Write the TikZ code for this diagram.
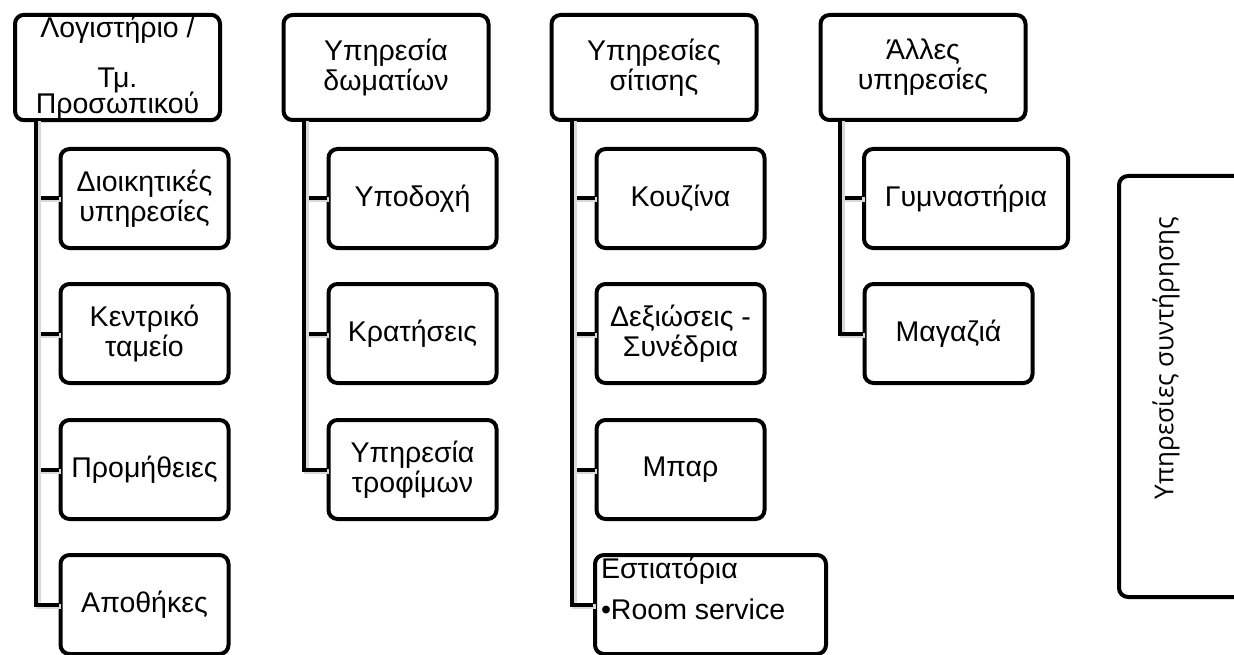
\documentclass[tikz,border=0pt]{standalone}
\usepackage{fontspec}
\setmainfont{Liberation Sans}
\newfontfamily\maintfont{Open Sans}
\begin{document}
\begin{tikzpicture}[x=1pt,y=-1pt,
  box/.style={draw,line width=4pt,rounded corners=9pt,align=center,inner sep=1pt,
    font=\fontsize{28.5}{30}\selectfont},
  head/.style={box,minimum width=205pt,minimum height=105pt},
  item/.style={box,minimum width=168pt,minimum height=99pt},
  conn/.style={line width=4pt,preaction={draw,black!15,line width=5pt,
    transform canvas={shift={(2.5pt,-1.5pt)}}}}]
\useasboundingbox (0,0) rectangle (1234,655);
\clip (0,0) rectangle (1234,655);
\coordinate (accbus) at (36,120);
\coordinate (roomsbus) at (304,120);
\coordinate (foodbus) at (572,120);
\coordinate (otherbus) at (840,120);
\node[head] (acc) at (117.5,67.5) {Λογιστήριο /\\[20pt]Τμ.\\[-4pt]Προσωπικού};
\node[head] (rooms) at (386,67.5) {Υπηρεσία\\δωματίων};
\node[head] (food) at (654,67.5) {Υπηρεσίες\\σίτισης};
\node[head] (other) at (923,67.5) {Άλλες\\υπηρεσίες};
\node[item] (acc1) at (144.5,198.5) {Διοικητικές\\υπηρεσίες};
\node[item] (acc2) at (144.5,333.5) {Κεντρικό\\ταμείο};
\node[item] (acc3) at (144.5,469.5) {Προμήθειες};
\node[item] (acc4) at (144.5,604.5) {Αποθήκες};
\node[item] (rooms1) at (412.5,198.5) {Υποδοχή};
\node[item] (rooms2) at (412.5,333.5) {Κρατήσεις};
\node[item] (rooms3) at (412.5,469.5) {Υπηρεσία\\τροφίμων};
\node[item] (food1) at (680.5,198.5) {Κουζίνα};
\node[item] (food2) at (680.5,333.5) {Δεξιώσεις -\\Συνέδρια};
\node[item] (food3) at (680.5,469.5) {Μπαρ};
\node[item,minimum width=231pt,inner sep=0pt] (food4) at (710.5,604.5)
  {\parbox[c][95pt][t]{219pt}{\raggedright Εστιατόρια\\[11pt]•Room service}};
\node[item,minimum width=204pt] (other1) at (966,198.5) {Γυμναστήρια};
\node[item] (other2) at (948.5,333.5) {Μαγαζιά};
\node[box,minimum width=150pt,minimum height=421pt,anchor=north west] (maint) at (1117,174) {};
\node[rotate=90,font=\maintfont\fontsize{26}{27}\selectfont] (mainttext) at (1166,358) {Υπηρεσίες συντήρησης};
\foreach \i in {1,...,4} \draw[conn] (accbus) |- (acc\i.west);
\foreach \i in {1,...,3} \draw[conn] (roomsbus) |- (rooms\i.west);
\foreach \i in {1,...,4} \draw[conn] (foodbus) |- (food\i.west);
\foreach \i in {1,2} \draw[conn] (otherbus) |- (other\i.west);
\end{tikzpicture}
\end{document}
